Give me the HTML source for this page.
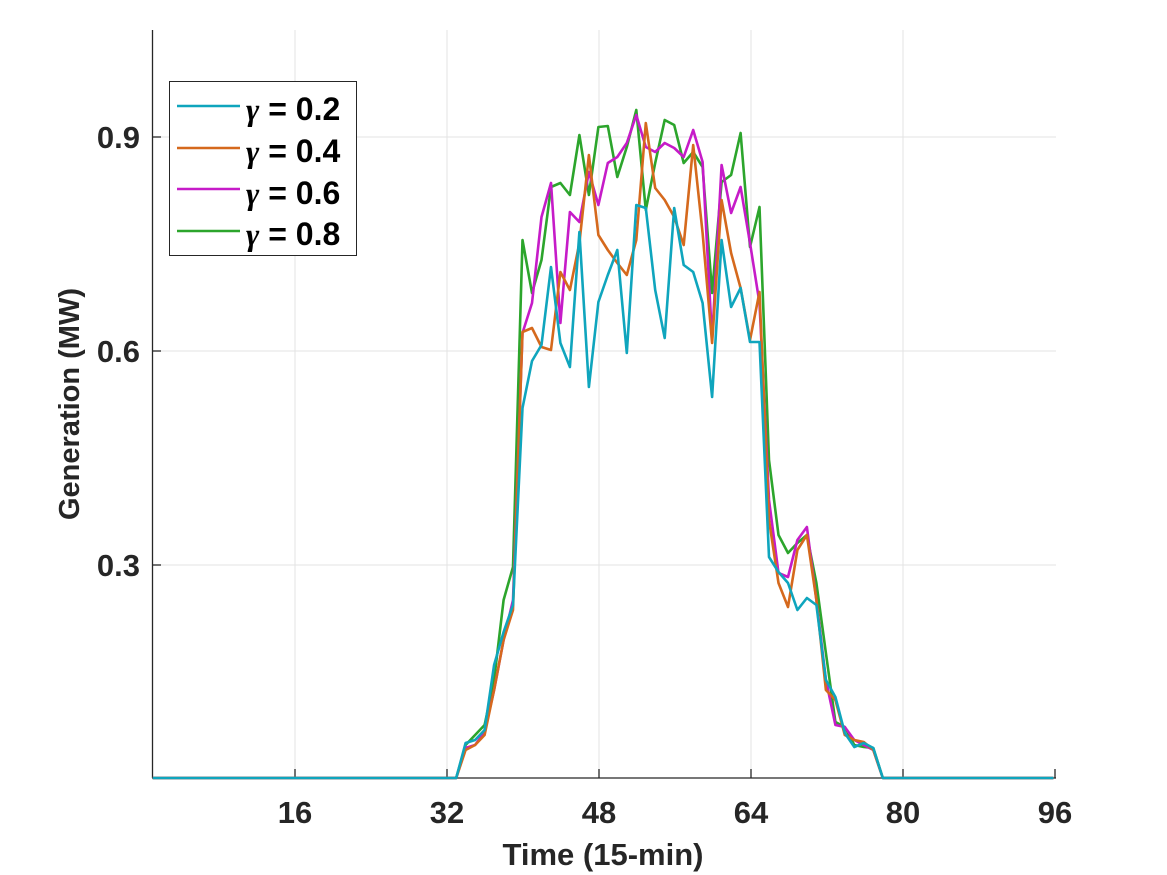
<!DOCTYPE html>
<html><head><meta charset="utf-8"><style>
html,body{margin:0;padding:0;background:#fff;}
svg{display:block;font-family:"Liberation Sans",sans-serif;font-weight:bold;}
</style></head><body>
<svg id="s" width="1167" height="875" viewBox="0 0 1167 875" xmlns="http://www.w3.org/2000/svg">
<rect width="1167" height="875" fill="#fff"/>
<g stroke="#e3e3e3" stroke-width="1">
<line x1="295" y1="30" x2="295" y2="778"/><line x1="447" y1="30" x2="447" y2="778"/>
<line x1="599" y1="30" x2="599" y2="778"/><line x1="751" y1="30" x2="751" y2="778"/>
<line x1="903" y1="30" x2="903" y2="778"/>
<line x1="152" y1="137" x2="1056" y2="137"/><line x1="152" y1="351" x2="1056" y2="351"/>
<line x1="152" y1="565" x2="1056" y2="565"/>
</g>
<g stroke="#262626" stroke-width="1.3">
<line x1="152" y1="778" x2="1056" y2="778"/>
<line x1="152.5" y1="30" x2="152.5" y2="778"/>
<line x1="152" y1="137" x2="161" y2="137"/><line x1="152" y1="351" x2="161" y2="351"/>
<line x1="152" y1="565" x2="161" y2="565"/>
<line x1="295" y1="778" x2="295" y2="769"/><line x1="447" y1="778" x2="447" y2="769"/>
<line x1="599" y1="778" x2="599" y2="769"/><line x1="751" y1="778" x2="751" y2="769"/>
<line x1="903" y1="778" x2="903" y2="769"/><line x1="1055" y1="778" x2="1055" y2="769"/>
</g>
<g id="lines" fill="none" stroke-width="2.6" stroke-linejoin="round"></g>
<g font-size="31" fill="#262626" text-anchor="middle">
<text x="295" y="823">16</text><text x="447" y="823">32</text><text x="599" y="823">48</text>
<text x="751" y="823">64</text><text x="903" y="823">80</text><text x="1055" y="823">96</text>
<text x="603" y="865">Time (15-min)</text>
</g>
<g font-size="31" fill="#262626" text-anchor="end">
<text x="140" y="148">0.9</text><text x="140" y="362">0.6</text><text x="140" y="576">0.3</text>
</g>
<text transform="translate(79,404) rotate(-90)" font-size="29" fill="#262626" text-anchor="middle">Generation (MW)</text>
<rect x="169.5" y="81.5" width="187" height="174" fill="#fff" stroke="#262626" stroke-width="1"/>
<g stroke-width="2.6">
<line x1="177" y1="106" x2="240" y2="106" stroke="#0fa5bd"/>
<line x1="177" y1="148" x2="240" y2="148" stroke="#d5691d"/>
<line x1="177" y1="189" x2="240" y2="189" stroke="#c61bc8"/>
<line x1="177" y1="231" x2="240" y2="231" stroke="#2ca52c"/>
</g>
<g font-size="32" fill="#000">
<text x="246" y="120"><tspan font-style="italic" font-family="Liberation Serif">γ</tspan> = 0.2</text>
<text x="246" y="162"><tspan font-style="italic" font-family="Liberation Serif">γ</tspan> = 0.4</text>
<text x="246" y="204"><tspan font-style="italic" font-family="Liberation Serif">γ</tspan> = 0.6</text>
<text x="246" y="245"><tspan font-style="italic" font-family="Liberation Serif">γ</tspan> = 0.8</text>
</g>
</svg>
<script>
var D={
"#2ca52c":[745,735,725,680,600,567,240,293,260,187,183,195,135,195,127,126,177,147,110,210,163,120,125,163,152,167,293,182,175,133,247,207,460,535,553,543,535,583,653,722,727,745,747,748],
"#c61bc8":[748,745,732,690,640,600,333,303,217,183,323,212,222,172,205,163,157,143,115,147,152,143,148,157,130,162,340,165,213,187,243,303,500,573,577,540,527,600,680,725,727,740,745,750],
"#d5691d":[750,745,735,690,640,610,332,328,347,350,272,290,243,155,235,250,263,275,240,123,188,200,217,245,145,233,343,200,253,288,340,292,520,583,607,550,535,600,690,700,735,740,742,750],
"#0fa5bd":[743,740,730,665,632,605,408,361,345,267,343,367,232,387,302,275,250,353,205,208,290,338,208,265,272,303,397,240,307,288,342,342,557,572,583,610,598,605,680,697,733,747,743,748]};
var g=document.getElementById('lines');
function X(t){return (152.8+(t-1)*9.48).toFixed(1);}
for(var c in D){var a=D[c],p=[];
for(var t=1;t<=33;t++)p.push(X(t)+','+778);
for(var i=0;i<a.length;i++)p.push(X(34+i)+','+a[i]);
for(var t=78;t<=96;t++)p.push(X(t)+','+778);
var e=document.createElementNS('http://www.w3.org/2000/svg','polyline');
e.setAttribute('points',p.join(' '));e.setAttribute('stroke',c);g.appendChild(e);}
</script>
</body></html>
